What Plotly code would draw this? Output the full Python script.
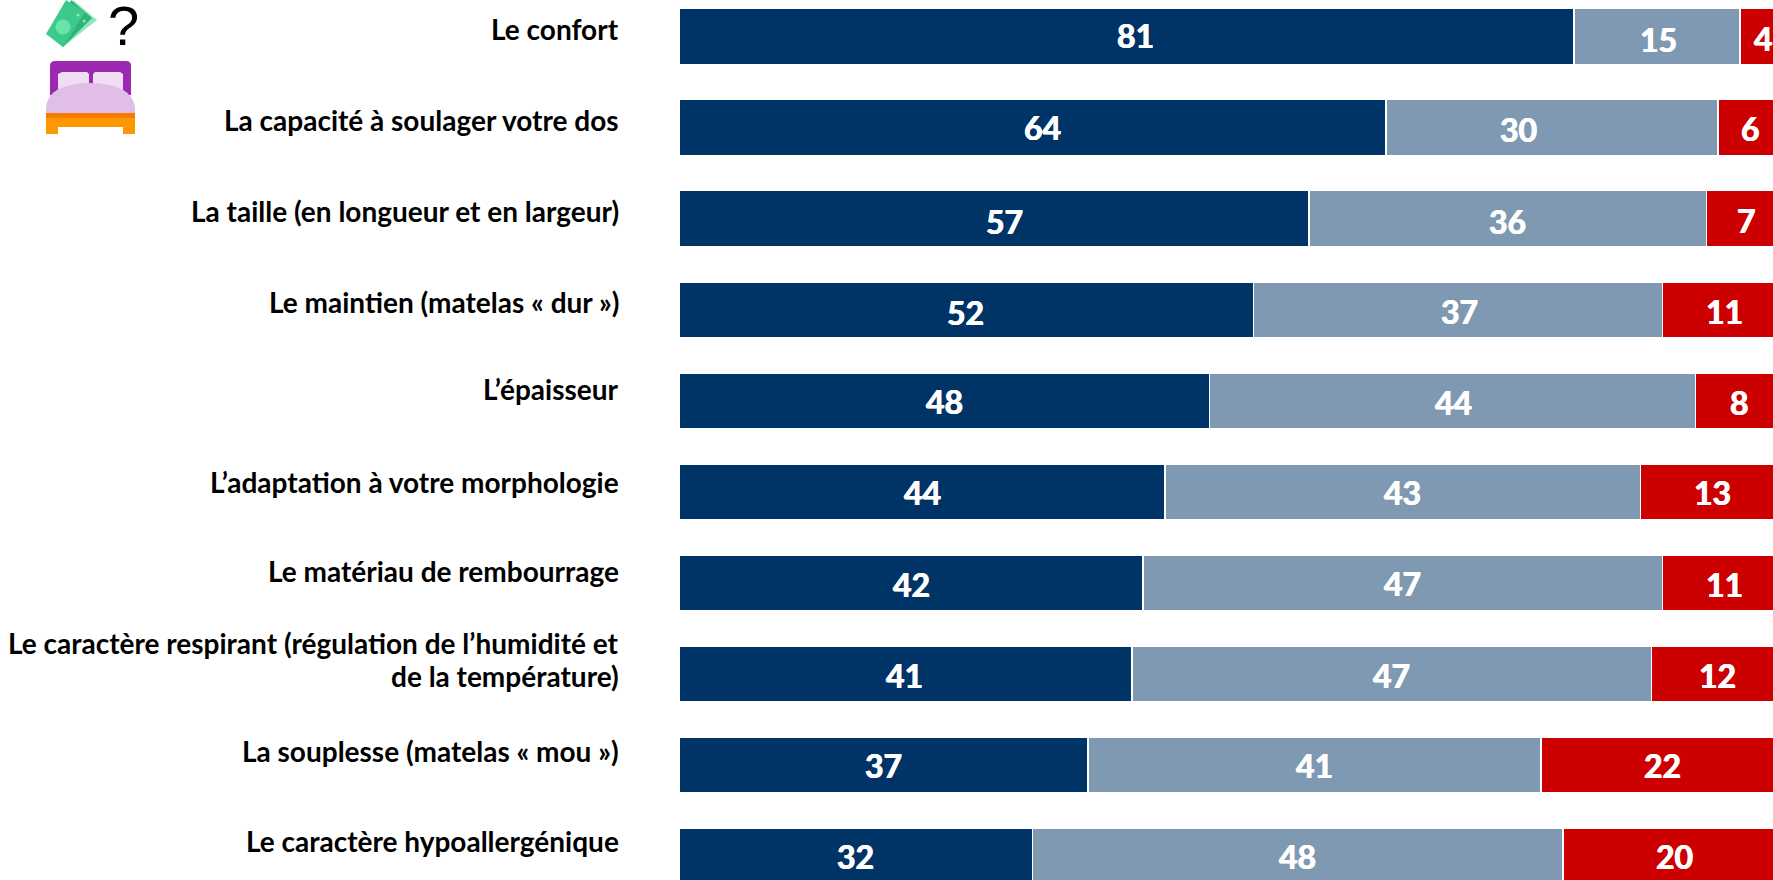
import plotly.graph_objects as go

categories = ["Le confort", "La capacité à soulager votre dos", "La taille (en longueur et en largeur)",
              "Le maintien (matelas « dur »)", "L’épaisseur", "L’adaptation à votre morphologie",
              "Le matériau de rembourrage",
              "Le caractère respirant (régulation de l’humidité et<br>de la température)",
              "La souplesse (matelas « mou »)", "Le caractère hypoallergénique"]
important = [81, 64, 57, 52, 48, 44, 42, 41, 37, 32]
moyen = [15, 30, 36, 37, 44, 43, 47, 47, 41, 48]
faible = [4, 6, 7, 11, 8, 13, 11, 12, 22, 20]
colors = ["#003366", "#7F99B2", "#CC0000"]
W, H, L = 1773, 880, 679
FONT = "Lato"

# small per-label nudges in pixels (style only): label placement in the source slide is hand-adjusted
category_up = [7, 8, 8, 8, 12, 10, 12, 0, 14, 15]
nudge_x = [[8, 9, 9, -1, 0, 0, 0, -1, 0, 0], [1, -30, 0, 1, 1, 0, 0, 0, 0, 0], [1, 0, 1, 1, 0, 0, 1, 0, 0, 1]]
nudge_y = [[-1, 0, 3, 3, 1, 1, 2, 2, 1, 1], [3, 2, 3, 2, 2, 1, 1, 2, 1, 1], [2, 1, 2, 2, 2, 1, 2, 2, 1, 1]]

fig = go.Figure()
base = [0] * len(categories)
for s, (vals, col) in enumerate(zip([important, moyen, faible], colors)):
    fig.add_bar(y=categories, x=vals, orientation="h", marker=dict(color=col, line=dict(color="white", width=1.5)),
                width=0.61, hoverinfo="skip")
    for i, (c, v) in enumerate(zip(categories, vals)):
        fig.add_annotation(x=base[i] + v / 2, y=c, xref="x", yref="y", text=str(v), showarrow=False,
                           xanchor="center", yanchor="middle",
                           xshift=nudge_x[s][i] * 1.13, yshift=-nudge_y[s][i] * 1.13,
                           font=dict(family=FONT, size=32, color="white", weight="bold",
                                     shadow="0.5px 0 0 white, -0.5px 0 0 white"))
        base[i] += v

for c, up in zip(categories, category_up):
    lines = c.split("<br>")
    shifts = [up] if len(lines) == 1 else [30.5, -2.5]
    for line, sh in zip(lines, shifts):
        fig.add_annotation(x=0, y=c, xref="x", yref="y", text=line, showarrow=False, xanchor="right", align="right",
                           xshift=-58, yshift=sh,
                           font=dict(family=FONT, size=28, color="black", weight="bold"))

def X(p): return (p - L) / (W - L)
def Y(p): return 1 - p / H
def P(*cmds):
    out = []
    for cmd in cmds:
        op, nums = cmd[0], cmd[1:]
        coords = [f"{X(nums[i]):.5f},{Y(nums[i + 1]):.5f}" for i in range(0, len(nums), 2)]
        out.append(op + " " + " ".join(coords))
    return " ".join(out) + " Z"
def poly(pts, col):
    cmds = [("M", *pts[0])] + [("L", *p) for p in pts[1:]]
    fig.add_shape(type="path", xref="paper", yref="paper", path=P(*cmds), fillcolor=col, line_width=0)
def disc(cx, cy, r, col):
    fig.add_shape(type="circle", xref="paper", yref="paper", x0=X(cx - r), x1=X(cx + r), y0=Y(cy + r), y1=Y(cy - r),
                  fillcolor=col, line_width=0)

# money icon
poly([(73, 0), (97, 20), (63, 47), (58, 40)], "#8CE8B8")
poly([(71, 0), (92, 18), (63, 47), (55, 40)], "#2FB37A")
poly([(66, 0), (85, 12), (63, 47), (46, 34)], "#3CC98C")
disc(63, 27, 7.5, "#69E4A8")
disc(78, 15, 1.5, "#8CE8B8")
disc(84, 21, 1.5, "#8CE8B8")
fig.add_annotation(x=X(123.5), y=Y(25), xref="paper", yref="paper", text="?", showarrow=False,
                   xanchor="center", yanchor="middle",
                   font=dict(family="Liberation Sans", size=56, color="black"))
# bed icon
fig.add_shape(type="path", xref="paper", yref="paper", fillcolor="#9C27B0", line_width=0,
              path=P(("M", 50, 66), ("Q", 50, 61, 55, 61), ("L", 126, 61), ("Q", 131, 61, 131, 66), ("L", 131, 95), ("L", 50, 95)))
poly([(58, 74), (62, 72), (87, 72), (89, 74), (89, 90), (58, 90)], "#EFDDF3")
poly([(93, 74), (95, 72), (120, 72), (123, 74), (123, 90), (93, 90)], "#EFDDF3")
fig.add_shape(type="path", xref="paper", yref="paper", fillcolor="#E1BEE7", line_width=0,
              path=P(("M", 46, 113), ("L", 46, 108), ("Q", 47, 84, 90, 83), ("Q", 133, 84, 135, 108), ("L", 135, 113)))
poly([(46, 113), (135, 113), (135, 118), (46, 118)], "#F57C00")
poly([(46, 118), (135, 118), (135, 134), (123, 134), (123, 127), (58, 127), (58, 134), (46, 134)], "#FF9800")

fig.update_layout(width=W, height=H, barmode="stack", bargap=0.39, showlegend=False, paper_bgcolor="white",
                  plot_bgcolor="white", margin=dict(l=L, r=0, t=0, b=0),
                  xaxis=dict(range=[0, 99.0], visible=False, fixedrange=True),
                  yaxis=dict(range=[9.269, -0.401], visible=False, fixedrange=True, type="category",
                             categoryorder="array", categoryarray=categories))
fig.write_html("out.html", config=dict(displayModeBar=False),
               post_script="document.body.style.margin='0';document.body.style.overflow='hidden';")
